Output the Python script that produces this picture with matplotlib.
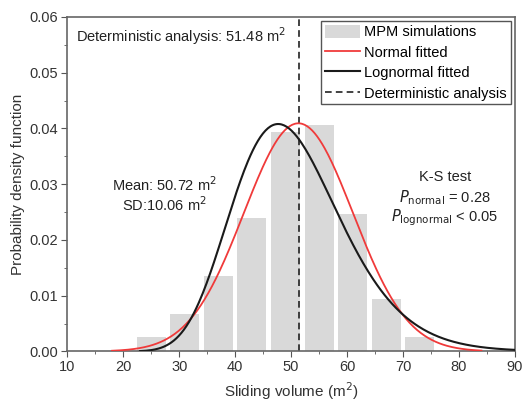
import matplotlib.pyplot as plt
import numpy as np
from matplotlib.ticker import MultipleLocator

plt.rcParams["font.family"] = ["Liberation Sans", "DejaVu Sans"]

# histogram of the MPM runs (bin centres and density heights)
bin_centers = [25, 31, 37, 43, 49, 55, 61, 67, 73]
bin_density = [0.0025, 0.0067, 0.0136, 0.0240, 0.0393, 0.0407, 0.0247, 0.0094, 0.0025]

# fitted distributions
normal_mu, normal_sd = 51.3, 9.75
lognorm_mu, lognorm_sigma = 3.905, 0.201
normal_range = (18, 84)
lognorm_range = (23, 90)

deterministic = 51.48
sample_mean, sample_sd = 50.72, 10.06
p_normal = 0.28


def normal_pdf(x, mu, sd):
    return np.exp(-0.5 * ((x - mu) / sd) ** 2) / (sd * np.sqrt(2 * np.pi))


def lognormal_pdf(x, mu, sigma):
    return np.exp(-0.5 * ((np.log(x) - mu) / sigma) ** 2) / (x * sigma * np.sqrt(2 * np.pi))


fig = plt.figure(figsize=(5.25, 4.03), dpi=100)
ax = fig.add_axes([0.128, 0.128, 0.853, 0.83])

bars = ax.bar(bin_centers, bin_density, width=5.2, color="#d9d9d9", zorder=1)

xn = np.linspace(*normal_range, 300)
ln_norm, = ax.plot(xn, normal_pdf(xn, normal_mu, normal_sd), color="#f03a3a",
                   lw=1.3, zorder=3)
xl = np.linspace(*lognorm_range, 300)
ln_logn, = ax.plot(xl, lognormal_pdf(xl, lognorm_mu, lognorm_sigma),
                   color="#1a1a1a", lw=1.5, zorder=3)
ln_det = ax.axvline(deterministic, color="#222222", ls=(0, (4, 2.5)), lw=1.2,
                    zorder=2)

ax.set_xlim(10, 90)
ax.set_ylim(0, 0.06)
ax.xaxis.set_major_locator(MultipleLocator(10))
ax.xaxis.set_minor_locator(MultipleLocator(5))
ax.yaxis.set_major_locator(MultipleLocator(0.01))
ax.yaxis.set_minor_locator(MultipleLocator(0.005))
ax.yaxis.set_major_formatter(lambda v, pos: f"{v:.2f}")
ax.tick_params(which="both", direction="out", color="#555555", labelsize=10.5,
               labelcolor="#333333", pad=2.5)
ax.tick_params(which="major", length=4)
ax.tick_params(which="minor", length=2.5)
for s in ax.spines.values():
    s.set_color("#666666")
    s.set_linewidth(1.2)

ax.set_xlabel("Sliding volume (m$^2$)", fontsize=11, color="#333333")
ax.set_ylabel("Probability density function", fontsize=11, color="#333333",
              labelpad=3)

txt = dict(fontsize=10.5, color="#222222", va="center")
ax.text(11.5, 0.0565, f"Deterministic analysis: {deterministic:.2f} m$^2$", **txt)
ax.text(27.3, 0.0299, f"Mean: {sample_mean:.2f} m$^2$", ha="center", **txt)
ax.text(27.3, 0.0264, f"SD:{sample_sd:.2f} m$^2$", ha="center", **txt)
ax.text(77.5, 0.0312, "K-S test", ha="center", **txt)
ax.text(77.5, 0.0276, f"$P_{{\\rm normal}}$ = {p_normal:.2f}", ha="center", **txt)
ax.text(77.5, 0.0240, "$P_{\\rm lognormal}$ < 0.05", ha="center", **txt)

leg = ax.legend([bars, ln_norm, ln_logn, ln_det],
                ["MPM simulations", "Normal fitted", "Lognormal fitted",
                 "Deterministic analysis"],
                loc="upper right", fontsize=10.5, frameon=True, fancybox=False,
                borderpad=0.25, labelspacing=0.4, handlelength=2.4,
                handleheight=1.0, handletextpad=0.3, borderaxespad=0.3)
leg.get_frame().set_edgecolor("#555555")
leg.get_frame().set_linewidth(1.0)
leg.get_frame().set_alpha(1)

fig.savefig("out.png", dpi=100)
